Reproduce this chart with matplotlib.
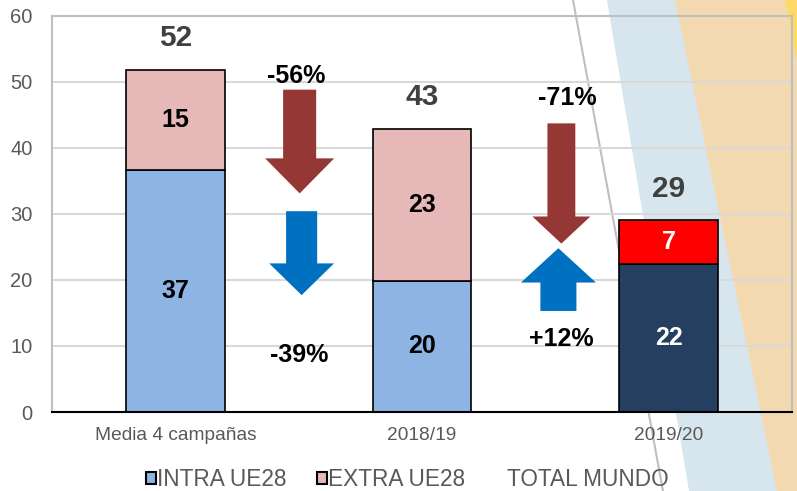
import matplotlib
matplotlib.use("Agg")
import matplotlib.pyplot as plt
from matplotlib.patches import Polygon, Patch, FancyArrow
from matplotlib.lines import Line2D

plt.rcParams['font.family'] = ['Liberation Sans', 'DejaVu Sans']

# datos
categorias = ["Media 4 campañas", "2018/19", "2019/20"]
intra_ue28 = [36.7, 19.9, 22.4]
extra_ue28 = [15.1, 23.0, 6.6]
total_mundo = [51.8, 42.9, 29.0]
variaciones = ["-56%", "-39%", "-71%", "+12%"]

c_intra = ['#8EB4E3', '#8EB4E3', '#243F60']
c_extra = ['#E6B9B8', '#E6B9B8', '#FF0000']
c_txt = ['black', 'black', 'white']
gris = '#595959'

W, H = 797, 491
fig = plt.figure(figsize=(W / 100, H / 100), dpi=100)

# fondo decorativo (bandas diagonales)
def px(x, y):
    return (x / W, 1 - y / H)

fondo = [
    ([px(607, 0), px(797, 0), px(797, 491), px(689, 491)], '#D7E6EE'),
    ([px(675, 0), px(797, 0), px(797, 491), px(777, 491)], '#F2D9B0'),
    ([px(785, 0), px(797, 0), px(797, 60)], '#FFD966'),
]
for pts, col in fondo:
    fig.patches.append(Polygon(pts, closed=True, facecolor=col, edgecolor='none',
                               transform=fig.transFigure, zorder=-10))
fig.lines.append(Line2D([573 / W, 663 / W], [1, 0], color='#BFBFBF', lw=1.5,
                        transform=fig.transFigure, zorder=-9))

ax = fig.add_axes([52 / W, (H - 412) / H, (792 - 52) / W, (412 - 15.7) / H])
ax.set_facecolor('none')

x = range(len(categorias))
ax.bar(x, intra_ue28, width=0.4, color=c_intra, edgecolor='black', linewidth=1.2, zorder=3)
ax.bar(x, extra_ue28, width=0.4, bottom=intra_ue28, color=c_extra, edgecolor='black',
       linewidth=1.2, zorder=3)

for i in x:
    ax.text(i, intra_ue28[i] / 2, f"{intra_ue28[i]:.0f}", ha='center', va='center',
            fontsize=18, fontweight='bold', color=c_txt[i], zorder=4)
    ax.text(i, intra_ue28[i] + extra_ue28[i] / 2, f"{extra_ue28[i]:.0f}", ha='center',
            va='center', fontsize=18, fontweight='bold', color=c_txt[i], zorder=4)
    ax.annotate(f"{total_mundo[i]:.0f}", (i, total_mundo[i]), xytext=(0, 23),
                textcoords='offset points', ha='center', va='center', fontsize=21.5,
                fontweight='bold', color='#404040', zorder=4)

# flechas de variación
rojo, azul = '#953735', '#0070C0'
flechas = [
    (0.504, 48.8, -15.7, 0.134, 0.28, 5.3, rojo),
    (0.512, 30.4, -12.7, 0.126, 0.263, 4.8, azul),
    (1.565, 43.7, -18.2, 0.113, 0.235, 4.1, rojo),
    (1.553, 15.3, 9.5, 0.146, 0.304, 5.2, azul),
]
for fx, fy, fdy, w, hw, hl, col in flechas:
    ax.add_patch(FancyArrow(fx, fy, 0, fdy, width=w, head_width=hw, head_length=hl,
                            length_includes_head=True, color=col, lw=0, zorder=3))

pos_var = [(0.49, 50.8), (0.504, 8.6), (1.59, 47.6), (1.565, 11.0)]
for (tx, ty), s in zip(pos_var, variaciones):
    ax.text(tx, ty, s, ha='center', va='center', fontsize=18, fontweight='bold',
            color='black', zorder=4)

ax.set_xlim(-0.5, 2.5)
ax.set_ylim(0, 60)
ax.set_yticks(range(0, 61, 10))
ax.set_xticks(list(x))
ax.set_xticklabels(categorias)
ax.tick_params(axis='y', length=0, pad=14, labelsize=14.5, labelcolor=gris)
ax.tick_params(axis='x', length=0, pad=11, labelsize=13.8, labelcolor=gris)
ax.grid(axis='y', color='#D9D9D9', lw=1.5, zorder=0)
for s in ['left', 'top', 'right']:
    ax.spines[s].set_color('#BFBFBF')
    ax.spines[s].set_linewidth(1.5)
ax.spines['bottom'].set_color('black')
ax.spines['bottom'].set_linewidth(1.5)
ax.spines['bottom'].set_zorder(5)

handles = [Patch(facecolor='#8EB4E3', edgecolor='black', lw=1.5),
           Patch(facecolor='#E6B9B8', edgecolor='black', lw=1.5),
           Patch(facecolor='none', edgecolor='none')]
leg = fig.legend(handles, ["INTRA UE28", "EXTRA UE28", "TOTAL MUNDO"], ncol=3,
                 loc='center', bbox_to_anchor=(0.511, 0.024), frameon=False,
                 fontsize=16.3, handlelength=0.45, handleheight=0.45, handletextpad=0.05,
                 columnspacing=1.35, borderpad=0.1)
for t in leg.get_texts():
    t.set_color(gris)

fig.savefig("out.png", dpi=100)
